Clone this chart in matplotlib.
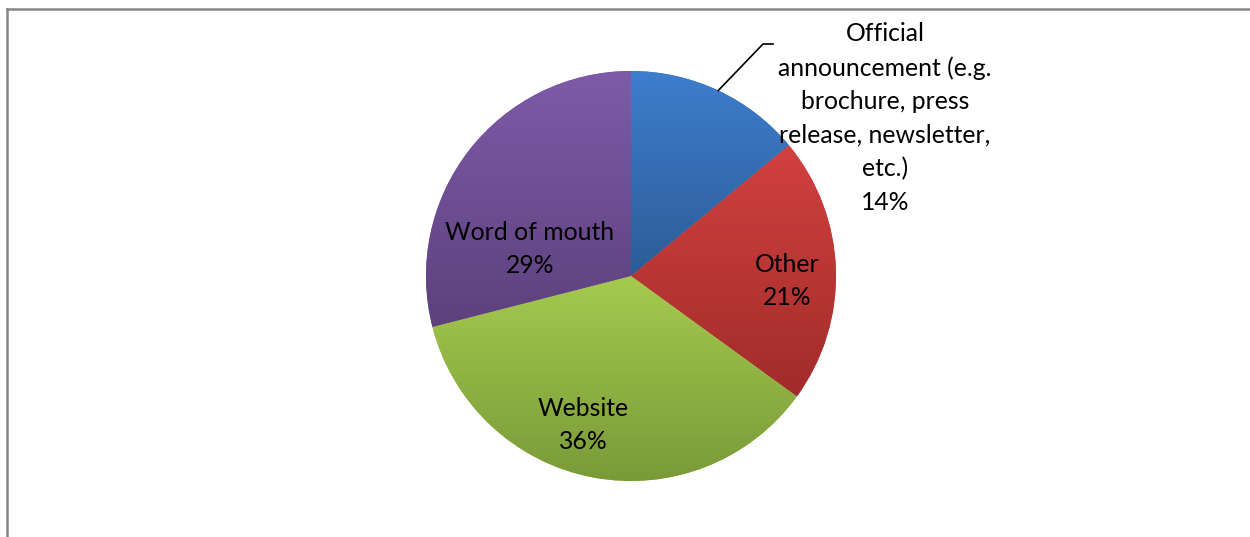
import numpy as np
import matplotlib
matplotlib.use("Agg")
import matplotlib.pyplot as plt
from matplotlib.colors import LinearSegmentedColormap
from matplotlib.lines import Line2D

categories = ["Official\nannouncement (e.g.\nbrochure, press\nrelease, newsletter,\netc.)",
              "Other", "Website", "Word of mouth"]
values = [14, 21, 36, 29]
top_colors = ["#3E7ECD", "#D2413F", "#A5CA4E", "#7E5BA8"]
bottom_colors = ["#2C5C97", "#A02C2B", "#7A9A38", "#5C417D"]

W, H = 1250, 537
fig = plt.figure(figsize=(W / 100, H / 100), dpi=100)
fig.patch.set_facecolor("white")

cx, cy, r = 631, 276, 205
ax = fig.add_axes([(cx - r) / W, (H - cy - r) / H, 2 * r / W, 2 * r / H])
ax.set_xlim(-1, 1)
ax.set_ylim(-1, 1)
ax.set_aspect("equal")
ax.axis("off")

wedges, _ = ax.pie(values, startangle=90, counterclock=False, radius=1,
                   colors=top_colors, wedgeprops=dict(linewidth=0))
for w, c1, c2 in zip(wedges, top_colors, bottom_colors):
    path = w.get_path().transformed(w.get_patch_transform())
    ext = path.get_extents()
    cmap = LinearSegmentedColormap.from_list("g", [c2, c1])
    grad = np.linspace(0, 1, 256).reshape(-1, 1)
    im = ax.imshow(grad, cmap=cmap, origin="lower", aspect="auto",
                   extent=[ext.x0, ext.x1, ext.y0, ext.y1], interpolation="bilinear", zorder=2)
    im.set_clip_path(w)
ax.set_xlim(-1, 1)
ax.set_ylim(-1, 1)

font = dict(family=["Lato", "DejaVu Sans"], fontsize=17.8, color="black",
            ha="center", va="center", linespacing=1.55, zorder=5)

def px(x, y):
    return ((x - cx) / r, (cy - y) / r)

label_pos = [(885, 118), (787, 281), (583, 425), (530, 249)]
for cat, val, (lx, ly) in zip(categories, values, label_pos):
    tx, ty = px(lx, ly)
    ax.text(tx, ty, f"{cat}\n{val}%", clip_on=False, **font)

# leader line for the first slice
mid = np.deg2rad(90 - values[0] / sum(values) * 360 / 2)
p0 = (np.cos(mid), np.sin(mid))
p1 = px(763, 44)
p2 = px(773, 44)
ax.plot([p0[0], p1[0], p2[0]], [p0[1], p1[1], p2[1]], color="black", lw=1.2,
        clip_on=False, zorder=6)

# chart frame (partially visible)
fig.add_artist(Line2D([7 / W, 1.0], [1 - 9 / H, 1 - 9 / H], color="#858585", lw=1.8,
                      transform=fig.transFigure))
fig.add_artist(Line2D([7 / W, 7 / W], [1 - 9 / H, 0.0], color="#858585", lw=1.8,
                      transform=fig.transFigure))

fig.savefig("out.png", dpi=100)
